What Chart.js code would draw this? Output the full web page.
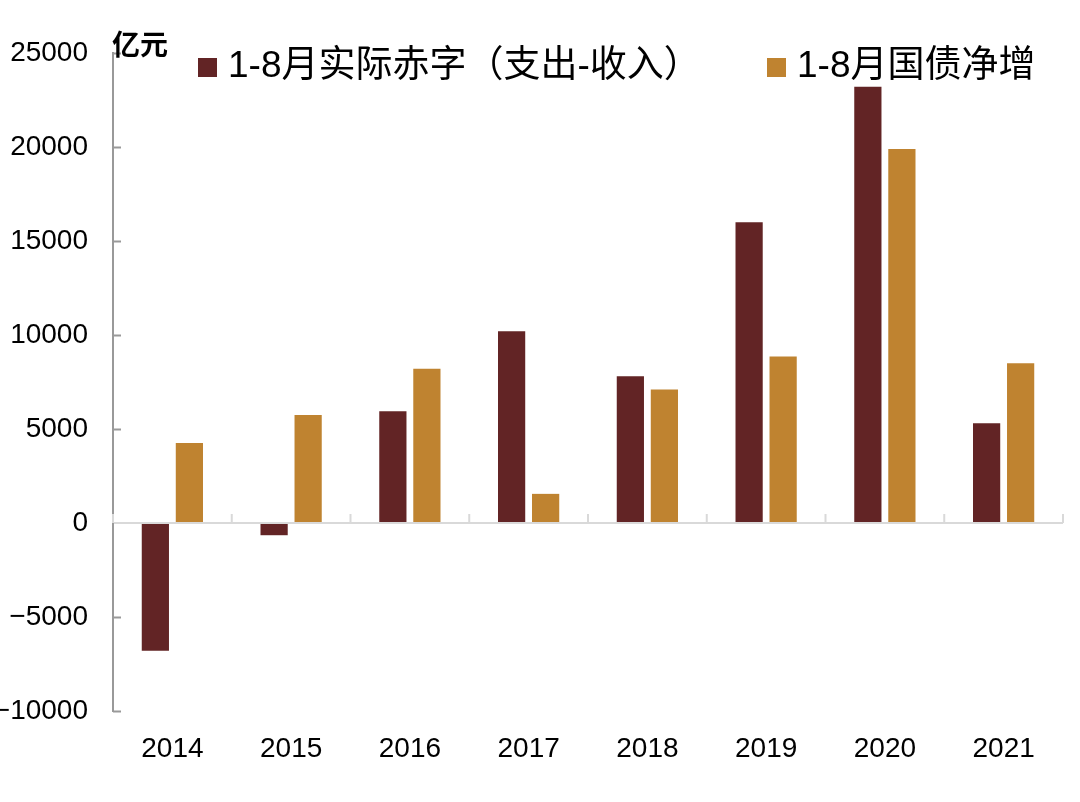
<!DOCTYPE html>
<html>
<head>
<meta charset="utf-8">
<script src="https://cdn.jsdelivr.net/npm/chart.js@4"></script>
<style>
  body { margin: 0; background: #fff; }
  #wrap { width: 1080px; height: 802px; }
</style>
</head>
<body>
<div id="wrap"><canvas id="chart" width="1080" height="802"></canvas></div>
<script>
const years = ['2014', '2015', '2016', '2017', '2018', '2019', '2020', '2021'];
const deficit = [-6800, -650, 5950, 10200, 7800, 16000, 23200, 5300];
const bondIncrease = [4250, 5750, 8200, 1550, 7100, 8850, 19900, 8500];
const seriesNames = ['1-8月实际赤字（支出-收入）', '1-8月国债净增'];
const unitLabel = '亿元';
const yMin = -10000;
const yMax = 25000;
const yStep = 5000;

const FONT = '"Liberation Sans", "Noto Sans CJK SC", sans-serif';

// axis decorations: inward y ticks, zero line ticks, unit and legend
const decorations = {
    id: 'decorations',
    afterDraw(chart) {
        const ctx = chart.ctx;
        const x = chart.scales.x;
        const y = chart.scales.y;
        ctx.save();

        // y ticks pointing into the plot
        ctx.strokeStyle = '#999';
        ctx.lineWidth = 2;
        y.ticks.forEach(t => {
            if (t.value === 0) return;
            const py = Math.round(y.getPixelForValue(t.value)) + 0.5;
            ctx.beginPath();
            ctx.moveTo(y.right, py);
            ctx.lineTo(y.right + 8, py);
            ctx.stroke();
        });

        // category separators on the zero line
        const y0 = y.getPixelForValue(0);
        const n = years.length;
        ctx.strokeStyle = '#d9d9d9';
        for (let i = 0; i <= n; i++) {
            const px = x.left + i * (x.width / n);
            ctx.beginPath();
            ctx.moveTo(px, y0);
            ctx.lineTo(px, y0 - 9);
            ctx.stroke();
        }

        // unit
        ctx.fillStyle = '#000';
        ctx.font = 'bold 28px ' + FONT;
        ctx.textBaseline = 'middle';
        ctx.textAlign = 'left';
        ctx.fillText(unitLabel, 112, 47);

        // legend
        ctx.font = '37px ' + FONT;
        const starts = [198, 767];
        chart.data.datasets.forEach((ds, i) => {
            ctx.fillStyle = ds.backgroundColor;
            ctx.fillRect(starts[i], 58, 19, 19);
            ctx.fillStyle = '#000';
            ctx.fillText(ds.label, starts[i] + 30, 67);
        });
        ctx.restore();
    }
};

new Chart(document.getElementById('chart'), {
    type: 'bar',
    data: {
        labels: years,
        datasets: [
            {
                label: seriesNames[0],
                data: deficit,
                backgroundColor: '#622425',
                categoryPercentage: 0.573,
                barPercentage: 0.8
            },
            {
                label: seriesNames[1],
                data: bondIncrease,
                backgroundColor: '#bf8330',
                categoryPercentage: 0.573,
                barPercentage: 0.8
            }
        ]
    },
    options: {
        responsive: false,
        animation: false,
        devicePixelRatio: 1,
        layout: { padding: { top: 53, right: 17, left: 0, bottom: 0 } },
        plugins: {
            legend: { display: false },
            tooltip: { enabled: false }
        },
        scales: {
            x: {
                grid: { display: false, drawTicks: false },
                border: { display: false },
                ticks: {
                    color: '#000',
                    font: { size: 28, family: FONT },
                    padding: 21
                },
                afterFit(scale) { scale.height = 91; }
            },
            y: {
                min: yMin,
                max: yMax,
                ticks: {
                    stepSize: yStep,
                    color: '#000',
                    font: { size: 28, family: FONT },
                    padding: 25,
                    callback: v => String(v).replace('-', '\u2212')
                },
                grid: {
                    drawTicks: false,
                    lineWidth: 2,
                    color: c => c.tick && c.tick.value === 0 ? '#d9d9d9' : 'rgba(0,0,0,0)'
                },
                border: { display: true, color: '#999', width: 2 },
                afterFit(scale) { scale.width = 113; }
            }
        }
    },
    plugins: [decorations]
});
</script>
</body>
</html>
